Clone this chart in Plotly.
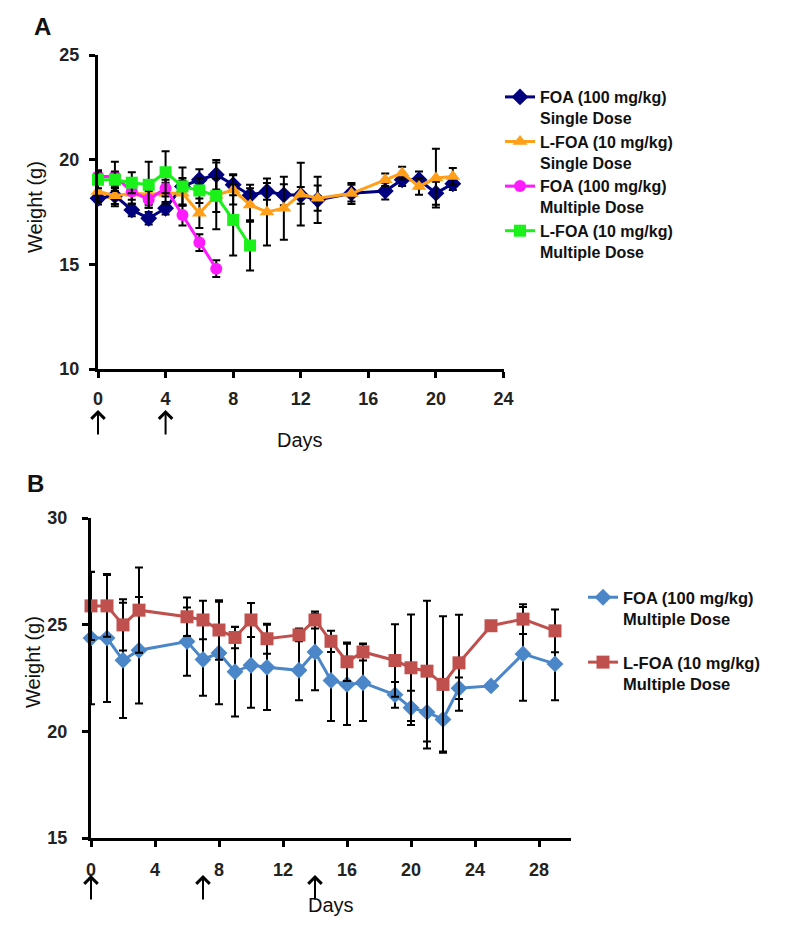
import plotly.graph_objects as go

# ---------------- Panel A data ----------------
days_single = [0, 1, 2, 3, 4, 5, 6, 7, 8, 9, 10, 11, 12, 13, 15, 17, 18, 19, 20, 21]
foa_single = [18.16, 18.28, 17.6, 17.2, 17.68, 18.72, 19.04, 19.28, 18.8, 18.3, 18.48, 18.32, 18.3, 18.08, 18.4, 18.5, 19.04, 19.04, 18.4, 18.85]
foa_single_err = [0.3, 0.4, 0.3, 0.3, 0.3, 0.4, 0.5, 0.7, 0.5, 0.5, 0.4, 0.5, 0.4, 1.1, 0.4, 0.4, 0.3, 0.4, 0.55, 0.3]
lfoa_single = [18.48, 18.28, 18.4, 18.35, 18.4, 18.4, 17.44, 18.3, 18.56, 17.84, 17.5, 17.68, 18.35, 18.16, 18.38, 19.04, 19.36, 18.72, 19.12, 19.2]
lfoa_single_err = [0.5, 0.5, 0.5, 0.5, 0.5, 0.6, 0.7, 0.8, 0.7, 0.8, 1.6, 1.5, 1.5, 0.6, 0.5, 0.3, 0.3, 0.4, 1.4, 0.4]

days_foa_multi_a = [0, 1, 2, 3, 4, 5, 6, 7]
foa_multi_a = [19.2, 19.2, 18.48, 18.1, 18.64, 17.36, 16.04, 14.79]
foa_multi_a_err = [0.3, 0.7, 0.4, 0.4, 0.4, 0.5, 0.4, 0.4]

days_lfoa_multi_a = [0, 1, 2, 3, 4, 5, 6, 7, 8, 9]
lfoa_multi_a = [19.04, 19.04, 18.9, 18.8, 19.4, 18.72, 18.53, 18.27, 17.12, 15.9]
lfoa_multi_a_err = [0.4, 0.4, 0.5, 1.1, 1.0, 0.9, 0.6, 1.6, 1.7, 1.2]

dose_days_a = [0, 4]

# ---------------- Panel B data ----------------
days_b = [0, 1, 2, 3, 6, 7, 8, 9, 10, 11, 13, 14, 15, 16, 17, 19, 20, 21, 22, 23, 25, 27, 29]
foa_multi_b = [24.37, 24.37, 23.33, 23.8, 24.21, 23.37, 23.67, 22.79, 23.1, 23.0, 22.86, 23.72, 22.38, 22.2, 22.28, 21.71, 21.1, 20.9, 20.56, 22.02, 22.13, 23.63, 23.16]
foa_multi_b_err = [3.1, 3.0, 2.7, 2.5, 1.6, 1.7, 2.4, 2.1, 2.0, 2.0, 1.4, 1.8, 1.9, 1.9, 1.8, 0.6, 0.8, 1.7, 1.5, 0.5, 0.15, 2.2, 1.7]
lfoa_multi_b = [25.88, 25.88, 24.99, 25.68, 25.37, 25.22, 24.75, 24.4, 25.22, 24.34, 24.52, 25.22, 24.22, 23.26, 23.72, 23.32, 22.98, 22.82, 22.2, 23.21, 24.95, 25.26, 24.71]
lfoa_multi_b_err = [1.6, 1.45, 1.2, 2.0, 0.9, 0.9, 1.4, 0.5, 0.8, 0.7, 0.3, 0.4, 0.5, 0.9, 0.4, 1.7, 2.5, 3.3, 3.2, 2.25, 0.1, 0.7, 1.0]

dose_days_b = [0, 7, 14]

xticks_a = [0, 4, 8, 12, 16, 20, 24]
yticks_a = [10, 15, 20, 25]
xticks_b = [0, 4, 8, 12, 16, 20, 24, 28]
yticks_b = [15, 20, 25, 30]

W, H = 800, 935
OFF = 8  # page body margin
FONT = "Liberation Sans, Arial, sans-serif"


def px_x(p):
    return (p - OFF) / W


def px_y(p):
    return 1 - (p - OFF) / H


fig = go.Figure()


def add_series(x, y, err, color, symbol, size, name, xa, ya, legend, group):
    fig.add_trace(go.Scatter(
        x=x, y=y, name=name, mode="lines+markers",
        line=dict(color=color, width=3),
        marker=dict(color=color, symbol=symbol, size=size),
        error_y=dict(type="data", array=err, visible=True, color="black",
                     thickness=2, width=4),
        xaxis=xa, yaxis=ya, legend=legend, legendgroup=group,
        cliponaxis=False,
    ))


add_series(days_single, foa_single, foa_single_err, "#00007F", "diamond", 13,
           "FOA (100 mg/kg)<br>Single Dose", "x", "y", "legend", "a1")
add_series(days_single, lfoa_single, lfoa_single_err, "#FF9F1A", "triangle-up", 13,
           "L-FOA (10 mg/kg)<br>Single Dose", "x", "y", "legend", "a2")
add_series(days_foa_multi_a, foa_multi_a, foa_multi_a_err, "#FF1AFF", "circle", 12,
           "FOA (100 mg/kg)<br>Multiple Dose", "x", "y", "legend", "a3")
add_series(days_lfoa_multi_a, lfoa_multi_a, lfoa_multi_a_err, "#1AF01A", "square", 12,
           "L-FOA (10 mg/kg)<br>Multiple Dose", "x", "y", "legend", "a4")

add_series(days_b, foa_multi_b, foa_multi_b_err, "#4A86C8", "diamond", 13,
           "FOA (100 mg/kg)<br>Multiple Dose", "x2", "y2", "legend2", "b1")
add_series(days_b, lfoa_multi_b, lfoa_multi_b_err, "#C0504D", "square", 13,
           "L-FOA (10 mg/kg)<br>Multiple Dose", "x2", "y2", "legend2", "b2")

axis_common = dict(showgrid=False, zeroline=False, showline=True, linecolor="black",
                   linewidth=3, ticks="outside", tickwidth=3, ticklen=6,
                   tickcolor="black", automargin=False,
                   tickfont=dict(family=FONT, size=18, color="#222", weight="bold"))

fig.update_layout(
    template="none",
    width=W, height=H,
    margin=dict(l=0, r=0, t=0, b=0, pad=0, autoexpand=False),
    paper_bgcolor="white", plot_bgcolor="white",
    font=dict(family=FONT, color="#111"),
    xaxis=dict(domain=[px_x(98), px_x(503.5)], range=[0, 24], tickvals=xticks_a,
               anchor="y", ticklabelstandoff=5, **axis_common),
    yaxis=dict(domain=[px_y(369), px_y(55)], range=[10, 25], tickvals=yticks_a,
               anchor="x", ticklabelstandoff=6, **axis_common),
    xaxis2=dict(domain=[px_x(91), px_x(571)], range=[0, 30], tickvals=xticks_b,
                anchor="y2", ticklabelstandoff=7, **axis_common),
    yaxis2=dict(domain=[px_y(838), px_y(518)], range=[15, 30], tickvals=yticks_b,
                anchor="x2", ticklabelstandoff=11, **axis_common),
    legend=dict(x=px_x(500), y=px_y(80), xanchor="left", yanchor="top",
                valign="top", tracegroupgap=0, bgcolor="rgba(0,0,0,0)",
                font=dict(family=FONT, size=16, color="#111", weight="bold")),
    legend2=dict(x=px_x(583), y=px_y(580), xanchor="left", yanchor="top",
                 valign="top", tracegroupgap=19, bgcolor="rgba(0,0,0,0)",
                 font=dict(family=FONT, size=16.5, color="#111", weight="bold")),
)


def label(text, x, y, size, bold=False, angle=0):
    return dict(text=text, x=px_x(x), y=px_y(y), xref="paper", yref="paper",
                xanchor="center", yanchor="middle", showarrow=False, textangle=angle,
                font=dict(family=FONT, size=size, color="#111",
                          weight="bold" if bold else "normal"))


annotations = [
    label("A", 42, 27, 24, bold=True),
    label("B", 35, 484, 24, bold=True),
    label("Weight (g)", 35, 207, 20, angle=-90),
    label("Weight (g)", 33, 662, 20, angle=-90),
    label("Days", 300, 440, 20),
    label("Days", 331, 905, 20),
]
for d in dose_days_a:
    annotations.append(dict(x=d, y=px_y(410), xref="x", yref="paper", text="",
                            showarrow=True, ax=0, ay=26, arrowhead=4, arrowsize=1.3,
                            arrowwidth=2, arrowcolor="black", standoff=0))
for d in dose_days_b:
    annotations.append(dict(x=d, y=px_y(875), xref="x2", yref="paper", text="",
                            showarrow=True, ax=0, ay=26, arrowhead=4, arrowsize=1.3,
                            arrowwidth=2, arrowcolor="black", standoff=0))
fig.update_layout(annotations=annotations)

fig.write_html("out.html")
